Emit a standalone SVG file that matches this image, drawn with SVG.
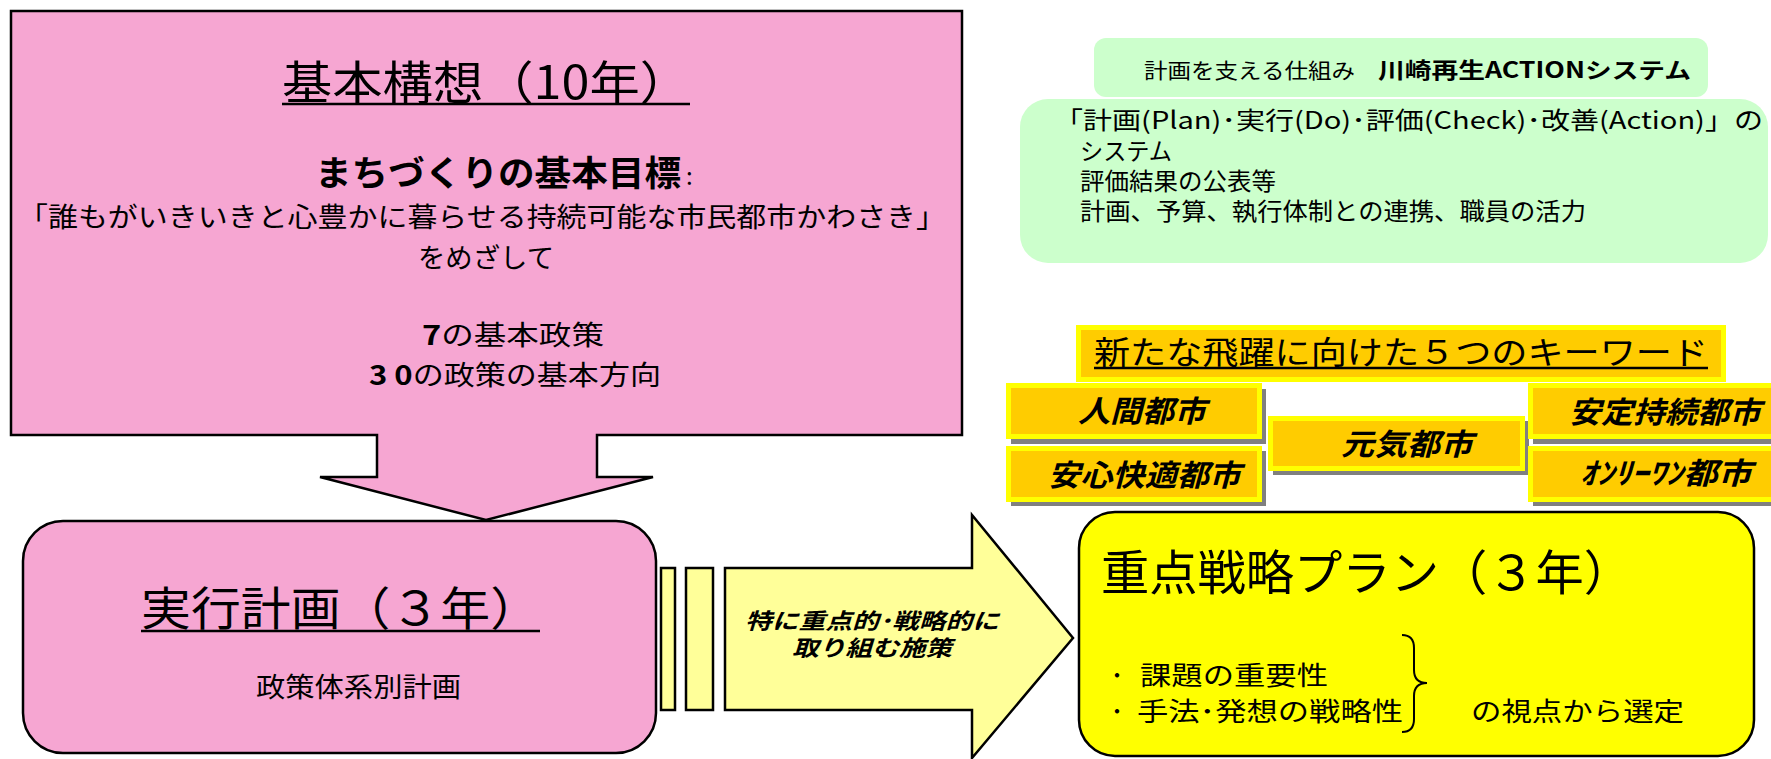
<svg xmlns="http://www.w3.org/2000/svg" width="1771" height="759" viewBox="0 0 1771 759">
<style>
text{font-family:"Noto Sans CJK JP","Noto Sans CJK SC",sans-serif;fill:#000}
.pink{fill:#F6A6D2;stroke:#000;stroke-width:2.5}
.lt{fill:#FFFF99;stroke:#000;stroke-width:2.5}
.kw{fill:#FFCC00;stroke:#FFFF00;stroke-width:5}
.sh{fill:#808080}
.kwt{font-size:30px;font-weight:700;font-style:italic}
.ul{stroke:#000;stroke-width:2.5}
.grn{fill:#CCFFCC}
</style>
<g id="kihon-koso">
<path class="pink" d="M11,11 H962 V435 H597 V477 H653 L486,520 L320,477 H377 V435 H11 Z"/>
<text x="282" y="99" font-size="46" textLength="408" lengthAdjust="spacingAndGlyphs">基本構想（10年）</text>
<line class="ul" x1="282" y1="104" x2="690" y2="104"/>
<text x="315" y="186" font-size="35" font-weight="700" textLength="366" lengthAdjust="spacingAndGlyphs">まちづくりの基本目標</text>
<text x="686" y="185" font-size="24">:</text>
<text x="482" y="227" font-size="27" text-anchor="middle" textLength="928" lengthAdjust="spacingAndGlyphs">「誰もがいきいきと心豊かに暮らせる持続可能な市民都市かわさき」</text>
<text x="486" y="268" font-size="27" text-anchor="middle" textLength="136" lengthAdjust="spacingAndGlyphs">をめざして</text>
<text x="422" y="345" font-size="27" textLength="182" lengthAdjust="spacingAndGlyphs"><tspan font-weight="700">7</tspan>の基本政策</text>
<text x="369" y="385" font-size="27" textLength="292" lengthAdjust="spacingAndGlyphs"><tspan font-weight="700">3 0</tspan>の政策の基本方向</text>
</g>
<g id="jikko-keikaku">
<rect class="pink" x="23" y="521" width="633" height="232" rx="40" ry="40"/>
<text x="141" y="625" font-size="46" textLength="399" lengthAdjust="spacingAndGlyphs">実行計画（３年）</text>
<line class="ul" x1="141" y1="631" x2="540" y2="631"/>
<text x="256" y="697" font-size="27" textLength="205" lengthAdjust="spacingAndGlyphs">政策体系別計画</text>
</g>
<g id="connectors">
<rect class="lt" x="661" y="568" width="14" height="142"/>
<rect class="lt" x="686" y="568" width="27" height="142"/>
<path class="lt" d="M725,568 H972 V515 L1073,638 L972,758 V710 H725 Z"/>
<text x="872" y="629" font-size="22" font-weight="700" font-style="italic" text-anchor="middle" textLength="254" lengthAdjust="spacingAndGlyphs">特に重点的･戦略的に</text>
<text x="872" y="656" font-size="22" font-weight="700" font-style="italic" text-anchor="middle" textLength="160" lengthAdjust="spacingAndGlyphs">取り組む施策</text>
</g>
<g id="action-system">
<rect class="grn" x="1094" y="38" width="614" height="59" rx="12" ry="12"/>
<rect class="grn" x="1020" y="99" width="748" height="164" rx="28" ry="28"/>
<text x="1144" y="78" font-size="21" textLength="211" lengthAdjust="spacingAndGlyphs">計画を支える仕組み</text>
<text x="1378" y="78" font-size="22" font-weight="700" textLength="313" lengthAdjust="spacingAndGlyphs">川崎再生ACTIONシステム</text>
<text x="1054" y="129" font-size="24" textLength="709" lengthAdjust="spacingAndGlyphs">「計画(Plan)･実行(Do)･評価(Check)･改善(Action)」の</text>
<text x="1080" y="160" font-size="24" textLength="92" lengthAdjust="spacingAndGlyphs">システム</text>
<text x="1080" y="190" font-size="24" textLength="196" lengthAdjust="spacingAndGlyphs">評価結果の公表等</text>
<text x="1080" y="220" font-size="24" textLength="506" lengthAdjust="spacingAndGlyphs">計画、予算、執行体制との連携、職員の活力</text>
</g>
<g id="keyword-title">
<rect class="kw" x="1078.5" y="327.5" width="645" height="52"/>
<text x="1094" y="364" font-size="32" textLength="614" lengthAdjust="spacingAndGlyphs">新たな飛躍に向けた５つのキーワード</text>
<line class="ul" x1="1094" y1="368" x2="1708" y2="368"/>
</g>
<g id="kw-ningen">
<rect class="sh" x="1011" y="389" width="255" height="55"/>
<rect class="kw" x="1008.5" y="385.5" width="251" height="51"/>
<text class="kwt" x="1078" y="422" textLength="128" lengthAdjust="spacingAndGlyphs">人間都市</text>
</g>
<g id="kw-anshin">
<rect class="sh" x="1011" y="451" width="255" height="55"/>
<rect class="kw" x="1008.5" y="448.5" width="251" height="51"/>
<text class="kwt" x="1048" y="486" textLength="193" lengthAdjust="spacingAndGlyphs">安心快適都市</text>
</g>
<g id="kw-genki">
<rect class="sh" x="1273" y="421" width="256" height="54"/>
<rect class="kw" x="1270.5" y="418.5" width="252" height="50"/>
<text class="kwt" x="1341" y="455" textLength="132" lengthAdjust="spacingAndGlyphs">元気都市</text>
</g>
<g id="kw-antei">
<rect class="sh" x="1533" y="389" width="245" height="55"/>
<rect class="kw" x="1530.5" y="385.5" width="245" height="51"/>
<text class="kwt" x="1569" y="423" textLength="192" lengthAdjust="spacingAndGlyphs">安定持続都市</text>
</g>
<g id="kw-onlyone">
<rect class="sh" x="1533" y="451" width="245" height="55"/>
<rect class="kw" x="1530.5" y="448.5" width="245" height="51"/>
<text class="kwt" x="1580" y="484" font-size="32" textLength="172" lengthAdjust="spacingAndGlyphs">ｵﾝﾘｰﾜﾝ都市</text>
</g>
<g id="juten-senryaku">
<rect x="1079" y="512" width="675" height="244" rx="36" ry="36" fill="#FFFF00" stroke="#000" stroke-width="2.5"/>
<text x="1101" y="590" font-size="48" textLength="531" lengthAdjust="spacingAndGlyphs">重点戦略プラン（３年）</text>
<text x="1117" y="685" font-size="26" text-anchor="middle">･</text>
<text x="1140" y="685" font-size="26" textLength="188" lengthAdjust="spacingAndGlyphs">課題の重要性</text>
<text x="1117" y="721" font-size="26" text-anchor="middle">･</text>
<text x="1137" y="721" font-size="26" textLength="266" lengthAdjust="spacingAndGlyphs">手法･発想の戦略性</text>
<path d="M1402,635 Q1414,635 1414,648 L1414,670 Q1414,683 1427,683 Q1414,683 1414,696 L1414,719 Q1414,732 1402,732" fill="none" stroke="#000" stroke-width="2"/>
<text x="1471" y="721" font-size="26" textLength="213" lengthAdjust="spacingAndGlyphs">の視点から選定</text>
</g>
</svg>
